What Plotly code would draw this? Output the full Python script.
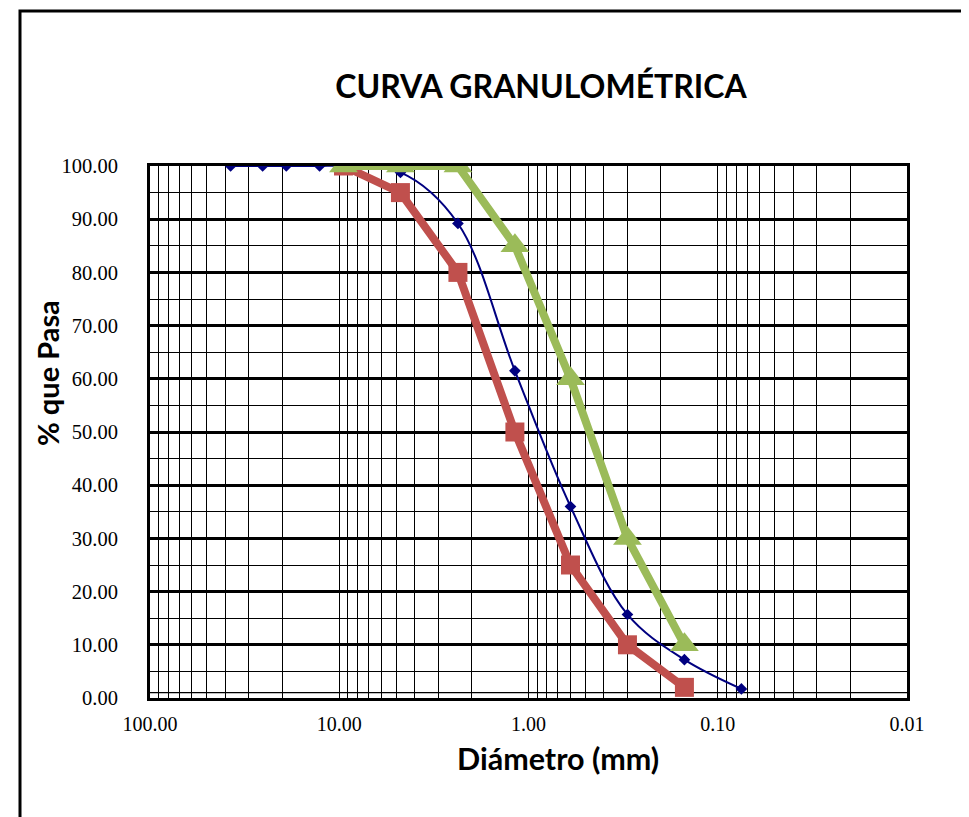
import plotly.graph_objects as go

# ---- data ----
diam_ensayo = [37.5, 25.4, 19.05, 12.7, 9.5, 4.75, 2.36, 1.18, 0.6, 0.3, 0.15, 0.075]
pasa_ensayo = [100.0, 100.0, 100.0, 100.0, 100.0, 98.8, 89.2, 61.5, 36.0, 15.7, 7.2, 1.7]

diam_lim = [9.5, 4.75, 2.36, 1.18, 0.6, 0.3, 0.15]
pasa_inf = [100.0, 95.0, 80.0, 50.0, 25.0, 10.0, 2.0]
pasa_sup = [100.0, 100.0, 100.0, 85.0, 60.0, 30.0, 10.0]

x_tick_decades = [100, 10, 1, 0.1, 0.01]
x_tick_labels = ["100.00", "10.00", "1.00", "0.10", "0.01"]

# ---- figure ----
fig = go.Figure()

fig.add_trace(go.Scatter(
    x=diam_ensayo, y=pasa_ensayo, mode="lines+markers",
    line=dict(color="#000080", width=2, shape="spline", smoothing=1),
    marker=dict(symbol="diamond", size=9, color="#000080"),
    showlegend=False))
fig.add_trace(go.Scatter(
    x=diam_lim, y=pasa_inf, mode="lines+markers",
    line=dict(color="#C0504D", width=8),
    marker=dict(symbol="square", size=19, color="#C0504D"),
    showlegend=False))
fig.add_trace(go.Scatter(
    x=diam_lim, y=pasa_sup, mode="lines+markers",
    line=dict(color="#9BBB59", width=8),
    marker=dict(symbol="triangle-up", size=25, color="#9BBB59"),
    showlegend=False))

# gridline positions (1..9 per decade)
grid_vals = []
grid_text = []
for d in [0.01, 0.1, 1, 10]:
    for k in range(1, 10):
        v = round(d * k, 6)
        grid_vals.append(v)
        grid_text.append(x_tick_labels[x_tick_decades.index(v)] if v in x_tick_decades else "")
grid_vals.append(100)
grid_text.append("100.00")

# page has an 8px body margin: figure coords = page coords - 8
OFF = 8
W, H = 969 - OFF, 817 - OFF
L, R, T, B = 150 - OFF, 62, 166 - OFF, 119
pw, ph = W - L - R, H - T - B


def px(xp):
    return (xp - OFF - L) / pw


def py(yp):
    return (H - B - (yp - OFF)) / ph


fig.update_xaxes(
    type="log", range=[2, -2],
    tickvals=grid_vals, ticktext=grid_text,
    showgrid=True, gridcolor="#000000", gridwidth=1.3,
    showline=True, linecolor="#000000", linewidth=3, mirror=True,
    ticks="", ticklabelstandoff=6,
    tickfont=dict(family="Liberation Serif", size=20, color="#000000"),
    zeroline=False)
fig.update_yaxes(
    range=[0, 100], dtick=10, tickformat=".2f",
    showgrid=True, gridcolor="#000000", gridwidth=2.5,
    minor=dict(dtick=5, showgrid=True, gridcolor="#000000", gridwidth=1.3),
    showline=True, linecolor="#000000", linewidth=3, mirror=True,
    ticks="", ticklabelstandoff=25,
    tickfont=dict(family="Liberation Serif", size=20.5, color="#000000"),
    zeroline=False)

fig.update_layout(
    width=W, height=H,
    margin=dict(l=L, r=R, t=T, b=B),
    paper_bgcolor="white", plot_bgcolor="white",
    title=dict(text="<b>CURVA GRANULOMÉTRICA</b>", xref="container", yref="container",
               x=(541 - OFF) / W, y=1 - (87 - OFF) / H, xanchor="center", yanchor="middle",
               font=dict(family="Lato", size=32, color="#000000")),
    annotations=[
        dict(text="<b>Diámetro (mm)</b>", xref="paper", yref="paper",
             x=px(558), y=py(758), xanchor="center", yanchor="middle",
             showarrow=False, font=dict(family="Lato", size=30.5, color="#000000")),
        dict(text="<b>% que Pasa</b>", xref="paper", yref="paper",
             x=px(47), y=py(373), xanchor="center", yanchor="middle",
             textangle=-90, showarrow=False,
             font=dict(family="Lato", size=29, color="#000000")),
    ],
    shapes=[
        dict(type="rect", xref="paper", yref="paper",
             x0=px(20), x1=px(1010), y0=py(11), y1=py(860),
             line=dict(color="#000000", width=3), layer="below"),
        dict(type="line", xref="paper", yref="y", x0=0, x1=1, y0=1, y1=1,
             line=dict(color="#000000", width=1.3), layer="below"),
    ],
)

fig.write_html("out.html")
